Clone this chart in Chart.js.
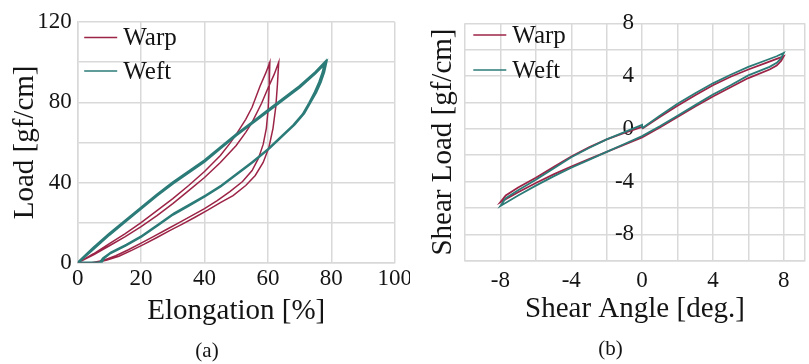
<!DOCTYPE html>
<html>
<head>
<meta charset="utf-8">
<script src="https://cdn.jsdelivr.net/npm/chart.js@4"></script>
<style>
html, body { margin: 0; padding: 0; background: #fff; overflow: hidden; width: 809px; height: 364px; }
#wrap { position: relative; width: 809px; height: 364px; }
#chart-a { position: absolute; left: 0; top: 0; }
#chart-b { position: absolute; left: 410px; top: 0; background: #fff; z-index: 1; }
</style>
</head>
<body>
<div id="wrap">
  <canvas id="chart-a" width="414" height="364"></canvas>
  <canvas id="chart-b" width="401" height="364"></canvas>
</div>
<script>
// ─── DATA (a) tensile ─────────────────────────────────────
const warpTensileX = [
    0, 5, 10, 15, 20, 25, 30, 35, 40, 45, 48, 50, 53, 55, 57.5, 59.3, 60.6,
    60.4, 60.1, 59.5, 58.5, 57, 55, 52, 48, 44, 40, 36, 32, 28, 24, 20, 16, 12, 8, 4.4,
    0,
    5, 10, 15, 20, 25, 30, 35, 40, 45, 50, 53, 55, 58, 60, 62, 63.4,
    63, 62.5, 61.6, 60.3, 58.5, 56, 53, 49, 45, 41, 37, 33, 29, 25, 21, 17, 13, 9, 5
];
const warpTensileY = [
    0, 4.5, 9.5, 14.5, 20, 26, 32, 38.5, 45.5, 53.5, 59.5, 64, 71.5, 77.5, 88, 94.5, 100,
    88, 77, 67, 59, 52, 46, 40.5, 35.5, 31, 27, 23.5, 20, 16.6, 13.2, 9.8, 6.5, 3.5, 1.2, 0,
    0,
    4, 8.5, 13, 18, 23.5, 29.5, 36, 42.5, 50, 58.5, 65, 70, 79.5, 87, 94, 100,
    89, 78, 67, 57.5, 50, 43.5, 38.5, 33.5, 30, 26.2, 22.7, 19.3, 16, 12.6, 9.3, 6.2, 3.3, 1.2, 0
];
const weftTensileX = [
    0, 5, 10, 15, 20, 25, 30, 35, 40, 45, 50, 55, 60, 65, 70, 75, 78,
    77.3, 76.2, 74.8, 73, 71, 68, 64, 60, 55, 50, 45, 40, 35, 30, 25, 20, 15, 10, 8, 7,
    0,
    5, 10, 15, 20, 25, 30, 35, 40, 45, 50, 55, 60, 65, 70, 75, 78.4,
    77.7, 76.6, 75.2, 73.4, 71.4, 68.4, 64.4, 60.4, 55.4, 50.4, 45.4, 40.4, 35.4, 30.4, 25.4, 20.4, 15.4, 10.4, 8.4, 7.4
];
const weftTensileY = [
    0, 7.5, 14.5, 21, 27.5, 34, 40, 45.5, 51, 57.5, 64, 70, 76, 82, 88, 95, 100,
    95, 90, 85, 79.5, 74, 68.5, 62.5, 56.5, 50, 44, 38, 33, 28.5, 24, 18.5, 13, 8.5, 4.5, 2.2, 0,
    0,
    7, 14, 20.5, 27, 33.5, 39.5, 45, 50.5, 57, 63.5, 69.5, 75.5, 81.5, 87.5, 94.5, 100,
    95, 90, 85, 80, 74.5, 69, 63, 57, 50.5, 44.5, 38.5, 33.5, 29, 24.5, 19, 13.5, 9, 5, 2.5, 0
];
const elongGrid = [0, 20, 40, 60, 80, 100];
const elongLabels = [0, 20, 40, 60, 80, 100];
const loadGrid = [0, 20, 40, 60, 80, 100, 120];
const loadLabels = [0, 40, 80, 120];

// ─── DATA (b) shear ───────────────────────────────────────
const warpShearX = [
    0, 1, 2, 3, 4, 5, 6, 7, 7.6, 8,
    7.85, 7.6, 7.2, 6, 5, 4, 3, 2, 1, 0, -1, -2, -3, -4, -5, -6, -7, -8,
    -7.7, -7, -6, -5, -4, -3, -2, -1, 0
];
const warpShearY = [
    0, 0.9, 1.75, 2.55, 3.3, 3.95, 4.5, 5.0, 5.3, 5.5,
    5.15, 4.8, 4.5, 3.85, 3.15, 2.45, 1.7, 0.9, 0.1, -0.65, -1.2, -1.75, -2.3, -2.85, -3.45, -4.1, -4.8, -5.55,
    -5.05, -4.45, -3.7, -2.9, -2.1, -1.4, -0.8, -0.3, 0.15
];
const weftShearX = [
    0, 1, 2, 3, 4, 5, 6, 7, 7.6, 8,
    7.85, 7.6, 7.2, 6, 5, 4, 3, 2, 1, 0, -1, -2, -3, -4, -5, -6, -7, -8,
    -7.7, -7, -6, -5, -4, -3, -2, -1, 0, 0
];
const weftShearY = [
    0.05, 1.0, 1.9, 2.7, 3.45, 4.1, 4.7, 5.2, 5.5, 5.75,
    5.35, 5.0, 4.7, 4.05, 3.3, 2.6, 1.8, 1.0, 0.2, -0.55, -1.15, -1.75, -2.35, -2.95, -3.6, -4.3, -5.05, -5.85,
    -5.25, -4.65, -3.85, -3.0, -2.15, -1.45, -0.8, -0.25, 0.3, 0.05
];
const angleGrid = [-10, -8, -6, -4, -2, 0, 2, 4, 6, 8, 9.2];
const angleLabels = [-8, -4, 0, 4, 8];
const shearGrid = [-10, -8, -6, -4, -2, 0, 2, 4, 6, 8];
const shearLabels = [-8, -4, 0, 4, 8];

// ─── STYLE ────────────────────────────────────────────────
const SERIF = '"Liberation Serif", "Times New Roman", serif';
const INK = '#141414';
const GRID = '#d9d9d9';
const WARP = '#9c2447';
const WEFT = '#2b7b78';
const tickFont = { family: SERIF, size: 23 };
const titleFont = { family: SERIF, size: 29 };

const pts = (xs, ys) => xs.map((x, i) => ({ x, y: ys[i] }));
const setTicks = list => axis => { axis.ticks = list.map(v => ({ value: v })); };
const onlyLabels = list => v => list.includes(v) ? String(v) : '';

// legend drawn inside the plot area, top-left
const innerLegend = {
    id: 'innerLegend',
    afterDraw(chart, args, opts) {
        const { ctx, chartArea } = chart;
        ctx.save();
        ctx.font = '25px ' + SERIF;
        ctx.textBaseline = 'middle';
        chart.data.datasets.forEach((ds, i) => {
            const x = chartArea.left + opts.left;
            const y = chartArea.top + opts.top + i * opts.gap;
            ctx.strokeStyle = ds.borderColor;
            ctx.lineWidth = 1.5;
            ctx.beginPath();
            ctx.moveTo(x, y);
            ctx.lineTo(x + 33, y);
            ctx.stroke();
            ctx.fillStyle = INK;
            ctx.fillText(ds.label, x + 39, y + 1);
        });
        ctx.restore();
    }
};

function gridOpts() {
    return { color: GRID, lineWidth: 1.5, drawTicks: false };
}

// ─── CHART (a) ────────────────────────────────────────────
new Chart(document.getElementById('chart-a'), {
    type: 'scatter',
    data: {
        datasets: [
            { label: 'Warp', data: pts(warpTensileX, warpTensileY), borderColor: WARP, borderWidth: 1.5, order: 1 },
            { label: 'Weft', data: pts(weftTensileX, weftTensileY), borderColor: WEFT, borderWidth: 2.4, order: 0 },
        ]
    },
    options: {
        responsive: false, animation: false,
        showLine: true,
        elements: { point: { radius: 0 }, line: { tension: 0 } },
        layout: { padding: { top: 22, left: 0, right: 0, bottom: 0 } },
        plugins: {
            legend: { display: false }, tooltip: { enabled: false },
            title: { display: true, position: 'bottom', text: '(a)', color: INK, font: { family: SERIF, size: 21, weight: 'normal' }, padding: 0 },
            innerLegend: { left: 6.5, top: 15.5, gap: 33.5 },
        },
        scales: {
            x: {
                type: 'linear', min: 0, max: 100,
                afterBuildTicks: setTicks(elongGrid),
                afterFit: a => { a.height = 76; },
                ticks: { padding: 2, autoSkip: false, maxRotation: 0, color: INK, font: tickFont, callback: onlyLabels(elongLabels) },
                grid: gridOpts(),
                border: { color: GRID, width: 1.5 },
                title: { display: true, text: 'Elongation [%]', color: INK, font: titleFont, padding: { top: 0, bottom: 10 } },
            },
            y: {
                type: 'linear', min: 0, max: 120,
                afterBuildTicks: setTicks(loadGrid),
                afterFit: a => { a.width = 77.7; },
                ticks: { padding: 6, autoSkip: false, color: INK, font: tickFont, callback: onlyLabels(loadLabels) },
                grid: gridOpts(),
                border: { color: GRID, width: 1.5 },
                title: { display: true, text: 'Load [gf/cm]', color: INK, font: titleFont, padding: { top: 8, bottom: 0 } },
            }
        }
    },
    plugins: [innerLegend]
});

// ─── CHART (b) ────────────────────────────────────────────
new Chart(document.getElementById('chart-b'), {
    type: 'scatter',
    data: {
        datasets: [
            { label: 'Warp', data: pts(warpShearX, warpShearY), borderColor: WARP, borderWidth: 1.8, order: 1 },
            { label: 'Weft', data: pts(weftShearX, weftShearY), borderColor: WEFT, borderWidth: 1.8, order: 0 },
        ]
    },
    options: {
        responsive: false, animation: false,
        showLine: true,
        elements: { point: { radius: 0 }, line: { tension: 0 } },
        layout: { padding: { top: 23.3, left: 0, right: 0, bottom: 0 } },
        plugins: {
            legend: { display: false }, tooltip: { enabled: false },
            title: { display: true, position: 'bottom', text: '(b)', color: INK, font: { family: SERIF, size: 21, weight: 'normal' }, padding: { top: 0, bottom: 2 } },
            innerLegend: { left: 8.3, top: 11.7, gap: 35 },
        },
        scales: {
            x: {
                type: 'linear', min: -10, max: 9.2,
                afterBuildTicks: setTicks(angleGrid),
                afterFit: a => { a.height = 76; },
                ticks: { padding: 6, autoSkip: false, maxRotation: 0, color: INK, font: tickFont, callback: onlyLabels(angleLabels) },
                grid: gridOpts(),
                border: { color: GRID, width: 1.5 },
                title: { display: true, text: 'Shear Angle [deg.]', color: INK, font: titleFont, padding: { top: 0, bottom: 10 } },
            },
            y: {
                type: 'linear', min: -10, max: 8,
                // labels sit just left of the zero line (Chart.js ignores tick padding here)
                position: { x: -0.45 },
                afterBuildTicks: setTicks(shearGrid),
                ticks: { autoSkip: false, color: INK, font: tickFont, callback: onlyLabels(shearLabels) },
                grid: gridOpts(),
                border: { display: false },
            },
            yTitle: {
                type: 'linear', position: 'left', axis: 'y',
                afterFit: a => { a.width = 55; },
                ticks: { display: false },
                grid: { display: false },
                border: { display: false },
                title: { display: true, text: 'Shear Load [gf/cm]', color: INK, font: titleFont, padding: { top: 16, bottom: 0 } },
            }
        }
    },
    plugins: [innerLegend]
});
</script>
</body>
</html>
